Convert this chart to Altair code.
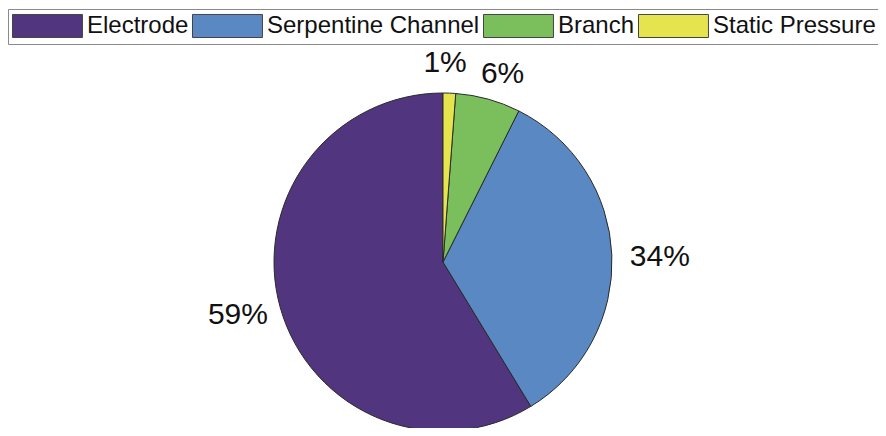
import altair as alt
import pandas as pd

categories = ["Electrode", "Serpentine Channel", "Branch", "Static Pressure"]
values = [58.7, 33.9, 6.2, 1.2]
labels = ["59%", "34%", "6%", "1%"]
# clockwise drawing order from 12 o'clock
draw_order = [4, 3, 2, 1]
colors = ["#52357f", "#5a88c2", "#7bbf5d", "#e6e44e"]

df = pd.DataFrame({
    "category": categories,
    "value": values,
    "label": labels,
    "ord": draw_order,
})

color_scale = alt.Scale(domain=categories, range=colors)

base = alt.Chart(df).encode(
    theta=alt.Theta("value:Q", stack=True),
    order=alt.Order("ord:Q", sort="ascending"),
)

pie = base.mark_arc(outerRadius=169, stroke="#2a2a2a", strokeWidth=1).encode(
    color=alt.Color(
        "category:N",
        scale=color_scale,
        sort=categories,
        legend=alt.Legend(
            title=None,
            orient="none",
            legendX=0,
            legendY=-87,
            direction="horizontal",
            columns=4,
            symbolType="M-1,-0.96H4.83V0.96H-1Z",
            symbolSize=576,
            symbolStrokeColor="#444444",
            symbolStrokeWidth=1,
            symbolOpacity=1,
            labelFont="Liberation Sans",
            labelFontSize=24,
            labelColor="#111111",
            labelOffset=50,
            labelLimit=400,
            columnPadding=1,
            padding=4,
            strokeColor="#8a8a8a",
            fillColor="white",
        ),
    )
)

def text_layer(cat, align, baseline, dx=0, dy=0):
    return base.mark_text(
        radius=187, align=align, baseline=baseline, dx=dx, dy=dy,
        font="Liberation Sans", fontSize=30, color="#111111",
    ).encode(
        text=alt.condition(alt.datum.category == cat, "label:N", alt.value(""))
    )

texts = [
    text_layer("Electrode", "right", "middle", dx=5, dy=3),
    text_layer("Serpentine Channel", "left", "middle", dy=3),
    text_layer("Branch", "left", "bottom", dx=-12, dy=7),
    text_layer("Static Pressure", "center", "bottom", dx=-5, dy=3),
]

chart = alt.layer(pie, *texts).properties(
    width=870,
    height=332,
    autosize=alt.AutoSizeParams(type="none"),
    padding={"left": 0, "top": 88, "right": 0, "bottom": 0},
).configure_view(stroke=None)

chart.save("out.html", embed_options={"renderer": "svg", "actions": False})
